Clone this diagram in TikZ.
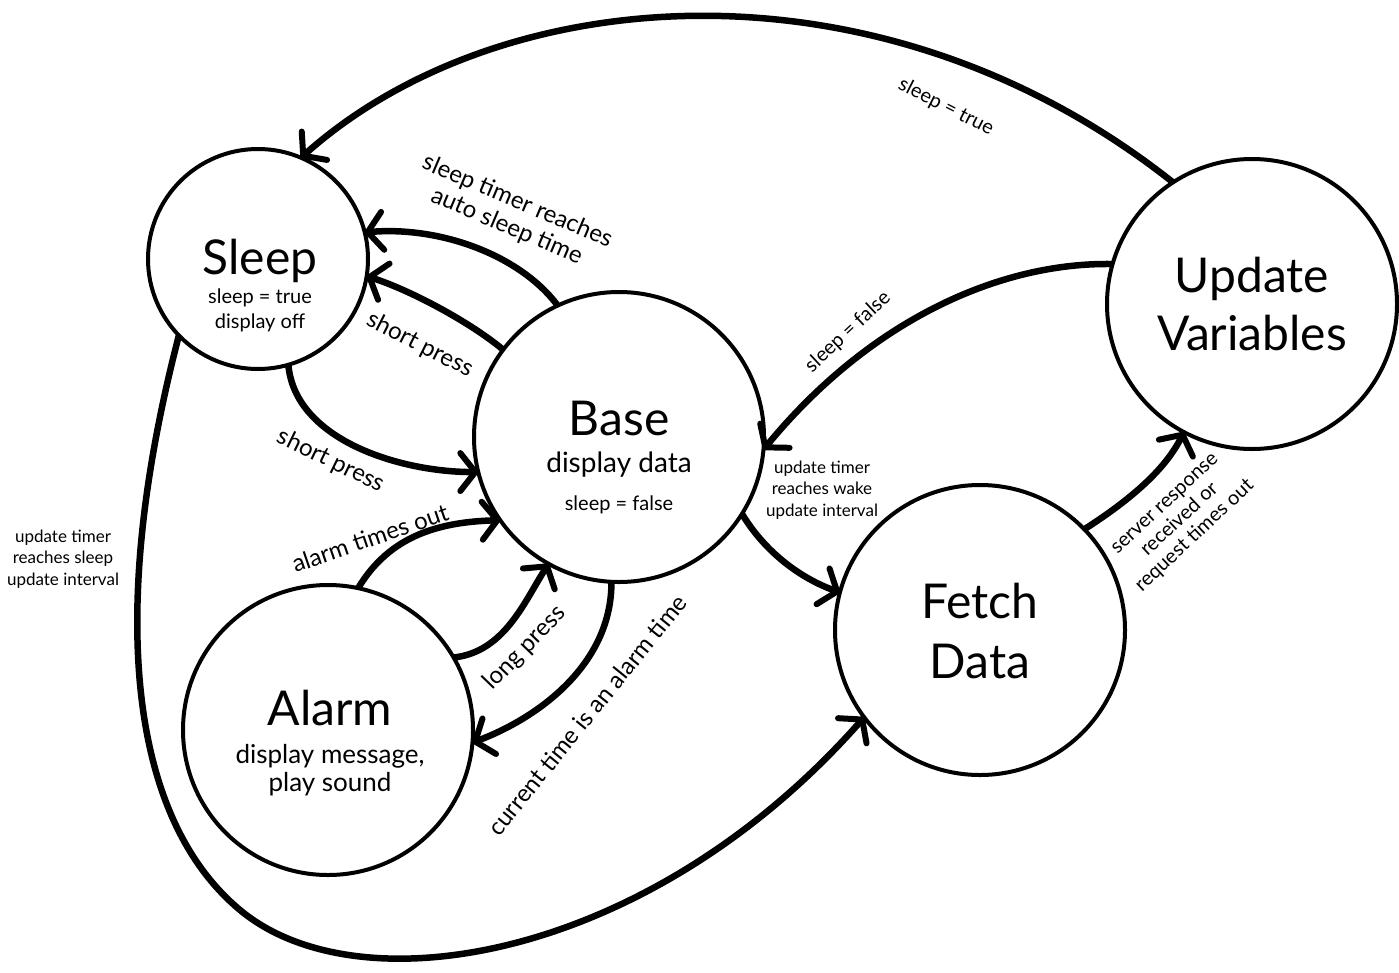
\documentclass[tikz,border=0pt]{standalone}
\usepackage{fontspec}
\setmainfont{Lato}
\usetikzlibrary{arrows.meta}
\begin{document}
\begin{tikzpicture}[x=1pt,y=-1pt,
  state/.style={circle,draw,line width=4pt,inner sep=0pt,outer sep=0pt},
  conn/.style={line width=6.5pt,-{Straight Barb[length=15pt,width=38pt,line width=6pt,round]}},
  bigtxt/.style={font=\fontsize{48}{54}\selectfont,anchor=base,inner sep=0pt},
  midtxt/.style={font=\fontsize{28}{32}\selectfont,anchor=base,inner sep=0pt},
  subtxt/.style={font=\fontsize{20}{24}\selectfont,anchor=base,inner sep=0pt},
  edgetxt/.style={font=\fontsize{24}{27}\selectfont,align=center,inner sep=0pt},
  smalltxt/.style={font=\fontsize{17}{21.5}\selectfont,align=center,inner sep=0pt},
  slimtxt/.style={font=\fontsize{20}{22}\selectfont,align=center,inner sep=0pt}
]
\fill[white] (0,0) rectangle (1399,972);
\path[use as bounding box] (0,0) rectangle (1399,972);

% states
\node[state,minimum size=220pt] (sleep) at (258,259) {};
\node[state,minimum size=290pt] (base) at (619,437) {};
\node[state,minimum size=290pt] (alarm) at (328,730) {};
\node[state,minimum size=290pt] (fetch) at (980,630) {};
\node[state,minimum size=290pt] (upd) at (1252,304) {};

% state texts
\node[bigtxt] (tsleep) at (260,274) {Sleep};
\node[subtxt] (tsleep1) at (260,303) {sleep = true};
\node[subtxt] (tsleep2) at (260,328) {display off};
\node[bigtxt] (tbase) at (619,435) {Base};
\node[midtxt] (tbase1) at (619,472) {display data};
\node[subtxt] (tbase2) at (619,510) {sleep = false};
\node[bigtxt] (talarm) at (330,725) {Alarm};
\node[midtxt,font=\fontsize{26}{30}\selectfont] (talarm1) at (330,763) {display message,};
\node[midtxt,font=\fontsize{26}{30}\selectfont] (talarm2) at (330,791) {play sound};
\node[bigtxt] (tfetch) at (980,618) {Fetch};
\node[bigtxt] (tfetch2) at (980,678) {Data};
\node[bigtxt] (tupd) at (1252,292) {Update};
\node[bigtxt] (tupd2) at (1252,350) {Variables};

% connectors
\draw[conn] (upd.123) .. controls (880,-50) and (500,-20) .. (sleep.67);
\draw[conn] (base.115) .. controls (520,255) and (440,226) .. (sleep.14);
\draw[conn] (base.143) .. controls (470,322) and (410,290) .. (sleep.-9);
\draw[conn] (sleep.-74) .. controls (295,440) and (400,472) .. (base.-166);
\draw[conn] (alarm.78) .. controls (390,535) and (440,522) .. (base.215);
\draw[conn] (alarm.30) .. controls (505,652) and (525,600) .. (base.241);
\draw[conn] (base.267) .. controls (612,660) and (545,715) .. (alarm.-5);
\draw[conn] (upd.164) .. controls (1000,262) and (870,320) .. (base.-5);
\draw[conn] (base.-32) .. controls (765,552) and (800,578) .. (fetch.165);
\draw[conn] (fetch.44) .. controls (1130,500) and (1165,470) .. (upd.242);
\coordinate (loopmid) at (240,910);
\draw[line width=6.5pt] (sleep.224) .. controls (105,620) and (132,820) .. (loopmid);
\draw[conn] (loopmid) .. controls (360,1010) and (650,960) .. (fetch.217);

% edge labels
\node[slimtxt,rotate=-27] (lsleeptrue) at (946,107) {sleep = true};
\node[edgetxt,rotate=-23] (ltimer) at (512,214) {sleep timer reaches\\auto sleep time};
\node[edgetxt,rotate=-27] (lshort1) at (420,345) {short press};
\node[edgetxt,rotate=-26] (lshort2) at (331,461) {short press};
\node[edgetxt,rotate=19] (lalarmout) at (370,538) {alarm times out};
\node[edgetxt,rotate=46] (llong) at (525,648) {long press};
\node[edgetxt,rotate=51] (lcurrent) at (587,715) {current time is an alarm time};
\node[slimtxt,rotate=43] (lsleepfalse) at (848,332) {sleep = false};
\node[smalltxt] (lwake) at (822,490) {update timer\\reaches wake\\update interval};
\node[smalltxt] (lsleepint) at (63,559) {update timer\\reaches sleep\\update interval};
\node[slimtxt,rotate=43] (lserver) at (1181,521) {server response\\received or\\request times out};
\end{tikzpicture}
\end{document}
